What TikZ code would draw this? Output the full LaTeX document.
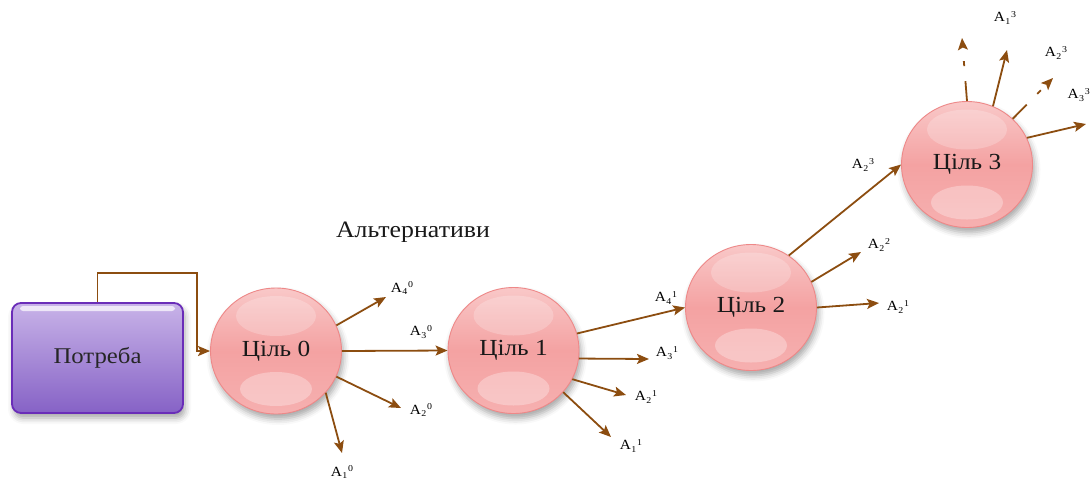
\documentclass[tikz,border=0pt]{standalone}
\usepackage{fontspec}
\setmainfont{Liberation Serif}[FakeStretch=1.1]
\usetikzlibrary{shapes.geometric,arrows.meta,shadows.blur,calc}
\definecolor{arrbrown}{HTML}{8C4D10}
\definecolor{pinkA}{HTML}{F9C8C8}
\definecolor{pinkB}{HTML}{F4A2A2}
\definecolor{pinkC}{HTML}{F6B0B0}
\definecolor{pinkE}{HTML}{EE8888}
\definecolor{purA}{HTML}{C8B3E8}
\definecolor{purB}{HTML}{8662C6}
\definecolor{purE}{HTML}{6A2DB8}
\newcommand{\albl}[2]{A\kern0.3pt\raisebox{-2.5pt}{\fontsize{9}{9}\selectfont #1}\kern0.8pt\raisebox{4.5pt}{\fontsize{9}{9}\selectfont #2}}
\begin{document}
\begin{tikzpicture}[x=1pt,y=-1pt,
  goal/.style={ellipse, minimum width=131pt, minimum height=126pt, inner sep=0pt,
    draw=pinkE, line width=0.9pt, top color=pinkA, bottom color=pinkC, middle color=pinkB,
    font=\fontsize{23}{26}\selectfont, text=black!90,
    blur shadow={shadow xshift=2pt, shadow yshift=-5pt, shadow blur radius=6pt, shadow opacity=35},
    path picture={
      \fill[white,opacity=0.22] ($(path picture bounding box.north)+(0,28)$) ellipse [x radius=40pt, y radius=20pt];
      \fill[white,opacity=0.3] ($(path picture bounding box.south)+(0,-25)$) ellipse [x radius=36pt, y radius=17pt];
    }},
  needbox/.style={rectangle, rounded corners=9pt, minimum width=171pt, minimum height=110pt,
    draw=purE, line width=1.8pt, top color=purA, bottom color=purB,
    font=\fontsize{22.5}{26}\selectfont, text=black!85,
    blur shadow={shadow xshift=2pt, shadow yshift=-5pt, shadow blur radius=6pt, shadow opacity=35},
    path picture={
      \fill[white,opacity=0.7, rounded corners=3pt] ($(path picture bounding box.north west)+(8,3)$) rectangle ($(path picture bounding box.north east)+(-8,8)$);
    }},
  arr/.style={draw=arrbrown, line width=1.8pt, -{Stealth[length=12pt,width=10pt,inset=2.5pt]}},
  darr/.style={arr, dash pattern=on 20pt off 15pt on 5pt off 30pt},
  lbl/.style={font=\fontsize{14}{16}\selectfont, text=black, inner sep=0pt},
  ttl/.style={font=\fontsize{23.5}{27}\selectfont, text=black!90, inner sep=0pt}
]
\useasboundingbox (0,0) rectangle (1092,483);
\clip (0,0) rectangle (1092,483);

\node[needbox] (pot) at (97.5,358) {Потреба};
\node[goal] (c0) at (276,351) {Ціль 0};
\node[goal] (c1) at (513.5,350.5) {Ціль 1};
\node[goal] (c2) at (751,307.5) {Ціль 2};
\node[goal] (c3) at (967,164.5) {Ціль 3};
\node[ttl] (alt) at (413,232) {Альтернативи};

\coordinate (k) at (197,273);
\coordinate (e40) at (386,297);
\coordinate (e20) at (401,408);
\coordinate (e10) at (342,453);
\coordinate (e31) at (649,359);
\coordinate (e21) at (626,395);
\coordinate (e11) at (611,437);
\coordinate (e22) at (861,252);
\coordinate (e2b) at (879,303);
\coordinate (e13d) at (962,38);
\coordinate (e13) at (1007,50);
\coordinate (e23d) at (1053,78);
\coordinate (e33) at (1086,124);

\draw[arr] (pot.north) |- (k) |- (c0.west);
\draw[arr] (c0.23) -- (e40);
\draw[arr] (c0.east) -- (c1.west);
\draw[arr] (c0.-23) -- (e20);
\draw[arr] (c0.-40) -- (e10);
\draw[arr] (c1.15) -- (c2.west);
\draw[arr] (c1.-7) -- (e31);
\draw[arr] (c1.-26) -- (e21);
\draw[arr] (c1.-40) -- (e11);
\draw[arr] (c2.54) -- (c3.west);
\draw[arr] (c2.23) -- (e22);
\draw[arr] (c2.east) -- (e2b);
\draw[darr] (c3.north) -- (e13d);
\draw[arr] (c3.66) -- (e13);
\draw[darr] (c3.45) -- (e23d);
\draw[arr] (c3.24) -- (e33);

\node[lbl] (l40) at (402,288) {\albl{4}{0}};
\node[lbl] (l30) at (421,332) {\albl{3}{0}};
\node[lbl] (l20) at (421,410) {\albl{2}{0}};
\node[lbl] (l10) at (342,472) {\albl{1}{0}};
\node[lbl] (l41) at (666,298) {\albl{4}{1}};
\node[lbl] (l31) at (667,353) {\albl{3}{1}};
\node[lbl] (l21) at (646,397) {\albl{2}{1}};
\node[lbl] (l11) at (631,446) {\albl{1}{1}};
\node[lbl] (l23in) at (863,165) {\albl{2}{3}};
\node[lbl] (l22) at (879,245) {\albl{2}{2}};
\node[lbl] (l21b) at (898,307) {\albl{2}{1}};
\node[lbl] (l13) at (1005,18) {\albl{1}{3}};
\node[lbl] (l23) at (1056,53) {\albl{2}{3}};
\node[lbl, anchor=east] (l33) at (1090,95) {\albl{3}{3}};
\end{tikzpicture}
\end{document}
